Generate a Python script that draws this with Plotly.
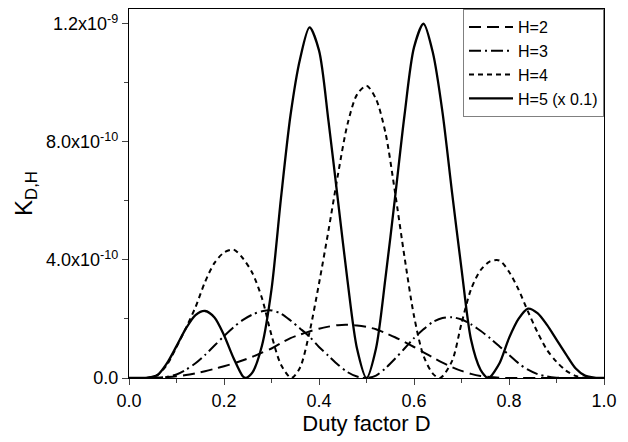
import plotly.graph_objects as go

# Values, in units of 1e-10
duty = [0.00, 0.02, 0.04, 0.06, 0.08, 0.10, 0.12, 0.14, 0.16, 0.18,
        0.20, 0.22, 0.24, 0.26, 0.28, 0.30, 0.32, 0.34, 0.36, 0.38,
        0.40, 0.42, 0.44, 0.46, 0.48, 0.50, 0.52, 0.54, 0.56, 0.58,
        0.60, 0.62, 0.64, 0.66, 0.68, 0.70, 0.72, 0.74, 0.76, 0.78,
        0.80, 0.82, 0.84, 0.86, 0.88, 0.90, 0.92, 0.94, 0.96, 0.98, 1.00]

k_h2 = [0, 0, 0, 0.01, 0.03, 0.06, 0.10, 0.16, 0.23, 0.31,
        0.40, 0.49, 0.60, 0.72, 0.86, 1.00, 1.18, 1.35, 1.47, 1.58,
        1.67, 1.74, 1.79, 1.80, 1.78, 1.73, 1.65, 1.52, 1.38, 1.22,
        1.05, 0.87, 0.69, 0.52, 0.37, 0.24, 0.14, 0.07, 0.03, 0.01,
        0, 0, 0, 0, 0, 0, 0, 0, 0, 0, 0]

k_h3 = [0, 0, 0, 0.01, 0.04, 0.12, 0.28, 0.50, 0.78, 1.10,
        1.42, 1.72, 1.97, 2.15, 2.26, 2.29, 2.18, 1.95, 1.68, 1.40,
        1.05, 0.75, 0.45, 0.20, 0.05, 0, 0.08, 0.33, 0.65, 1.00,
        1.35, 1.65, 1.90, 2.03, 2.06, 1.98, 1.82, 1.60, 1.35, 1.07,
        0.78, 0.50, 0.28, 0.13, 0.05, 0.01, 0, 0, 0, 0, 0]

duty_h4 = [0.00, 0.02, 0.04, 0.06, 0.08, 0.10, 0.12, 0.14, 0.16, 0.18,
           0.20, 0.22, 0.24, 0.26, 0.28, 0.30, 0.32, 0.342, 0.36, 0.38,
           0.40, 0.42, 0.44, 0.46, 0.48, 0.50, 0.52, 0.54, 0.56, 0.58,
           0.60, 0.62, 0.64, 0.655, 0.68, 0.70, 0.72, 0.74, 0.76, 0.78,
           0.80, 0.82, 0.84, 0.86, 0.88, 0.90, 0.92, 0.94, 0.96, 0.98, 1.00]
k_h4 = [0, 0, 0.01, 0.10, 0.45, 1.05, 1.70, 2.40, 3.25, 3.90,
        4.25, 4.35, 4.05, 3.55, 2.70, 1.45, 0.45, 0, 0.35, 1.55,
        3.20, 5.00, 6.90, 8.60, 9.60, 9.90, 9.45, 8.30, 6.30, 4.10,
        2.10, 0.75, 0.14, 0, 0.57, 1.85, 3.00, 3.65, 3.95, 3.98,
        3.60, 3.00, 2.25, 1.55, 0.95, 0.55, 0.25, 0.07, 0.01, 0, 0]

duty_h5 = [0.00, 0.02, 0.04, 0.06, 0.08, 0.10, 0.12, 0.14, 0.16, 0.18,
           0.20, 0.22, 0.24, 0.246, 0.26, 0.28, 0.30, 0.32, 0.34, 0.36,
           0.38, 0.40, 0.42, 0.44, 0.46, 0.48, 0.50, 0.52, 0.54, 0.56,
           0.58, 0.60, 0.62, 0.64, 0.66, 0.68, 0.70, 0.72, 0.74, 0.755,
           0.76, 0.78, 0.80, 0.82, 0.84, 0.86, 0.88, 0.90, 0.92, 0.94,
           0.96, 0.98, 1.00]
# H=5 already scaled by 0.1 as in the figure
k_h5 = [0, 0, 0.01, 0.10, 0.50, 1.08, 1.68, 2.13, 2.27, 2.05,
        1.45, 0.68, 0.05, 0, 0.19, 1.10, 3.00, 6.10, 8.90, 10.80,
        11.88, 11.10, 8.70, 6.00, 3.30, 1.00, 0, 1.00, 3.40, 6.10,
        8.90, 11.20, 12.00, 11.00, 9.00, 6.30, 3.70, 1.30, 0.28, 0,
        0.03, 0.50, 1.35, 2.00, 2.35, 2.20, 1.80, 1.30, 0.80, 0.33,
        0.08, 0.01, 0]

x_ticks = [0.0, 0.2, 0.4, 0.6, 0.8, 1.0]
x_labels = ["0.0", "0.2", "0.4", "0.6", "0.8", "1.0"]
y_ticks = [0, 4e-10, 8e-10, 1.2e-9]
y_labels = ["0.0", "4.0x10<sup>-10</sup>", "8.0x10<sup>-10</sup>", "1.2x10<sup>-9</sup>"]

series = [
    ("H=2", duty, k_h2, "12px,6px", 2),
    ("H=3", duty, k_h3, "12px,4px,2px,4px", 2),
    ("H=4", duty_h4, k_h4, "5px,4px", 2),
    ("H=5 (x 0.1)", duty_h5, k_h5, "solid", 2.3),
]

fig = go.Figure()
for name, xs, ks, dash, width in series:
    fig.add_trace(go.Scatter(
        x=xs,
        y=[k * 1e-10 for k in ks],
        mode="lines",
        name=name,
        line=dict(color="black", width=width, dash=dash, shape="spline", smoothing=0.8),
    ))

# page body adds an 8px margin, so the figure is 8px smaller than the window
fig.update_layout(
    width=620,
    height=434,
    margin=dict(l=121, r=24, t=1, b=64),
    plot_bgcolor="white",
    paper_bgcolor="white",
    font=dict(family="Liberation Sans, Arial, sans-serif", size=18, color="black"),
    legend=dict(
        x=1, y=1, xanchor="right", yanchor="top",
        bordercolor="#808080", borderwidth=1, bgcolor="white",
        font=dict(size=16), tracegroupgap=0, itemwidth=44,
    ),
    xaxis=dict(
        range=[0, 1], automargin=False,
        tickmode="array", tickvals=x_ticks, ticktext=x_labels,
        ticks="outside", ticklen=6, tickwidth=1.2,
        minor=dict(dtick=0.1, tick0=0, ticks="outside", ticklen=4, tickwidth=1.2),
        showline=True, linecolor="black", linewidth=1.3, mirror=True,
        showgrid=False, zeroline=False,
        title=dict(text="Duty factor D", font=dict(size=22), standoff=3),
    ),
    yaxis=dict(
        range=[0, 1.25e-9], automargin=False,
        tickmode="array", tickvals=y_ticks, ticktext=y_labels,
        ticks="outside", ticklen=6, tickwidth=1.2,
        minor=dict(dtick=2e-10, tick0=0, ticks="outside", ticklen=4, tickwidth=1.2),
        showline=True, linecolor="black", linewidth=1.3, mirror=True,
        showgrid=False, zeroline=False,
        title=dict(text="K<sub>D,H</sub>", font=dict(size=24), standoff=6),
    ),
)

fig.write_html("out.html")
